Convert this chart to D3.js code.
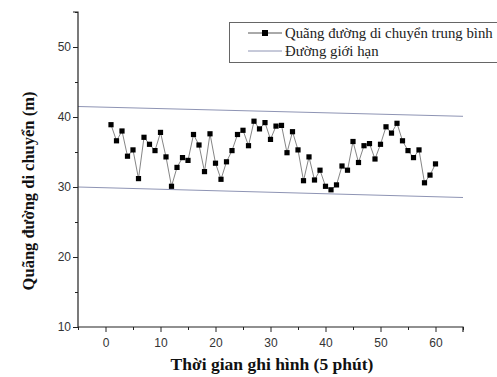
<!DOCTYPE html>
<html><head><meta charset="utf-8">
<script src="https://cdn.jsdelivr.net/npm/d3@7"></script>
<style>html,body{margin:0;padding:0;background:#fff;overflow:hidden}</style>
</head><body><svg id="c" width="497" height="377"></svg>
<script>
const xValues = d3.range(1, 61);
const distance = [38.9,36.6,38.0,34.4,35.3,31.2,37.1,36.1,35.2,37.8,
  34.3,30.1,32.8,34.2,33.8,37.5,36.0,32.2,37.6,33.4,
  31.1,33.6,35.2,37.5,38.1,35.9,39.4,38.3,39.2,36.8,
  38.7,38.8,34.9,37.9,35.3,30.9,34.3,31.0,32.4,30.1,
  29.6,30.3,33.0,32.4,36.5,33.5,35.9,36.2,34.0,36.1,
  38.6,37.7,39.1,36.6,35.2,34.2,35.3,30.6,31.7,33.3];
const upperLimit = [[-5, 41.5], [65, 40.1]];
const lowerLimit = [[-5, 30.0], [65, 28.5]];
const xTicks = [0,10,20,30,40,50,60];
const yTicks = [10,20,30,40,50];
const legendLabels = ["Quãng đường di chuyển trung bình", "Đường giới hạn"];

const svg = d3.select("#c");
const x = d3.scaleLinear().domain([-5, 65]).range([78, 463]);
const y = d3.scaleLinear().domain([10, 55]).range([327, 12]);

// limit lines
const lim = d3.line().x(d => x(d[0])).y(d => y(d[1]));
[upperLimit, lowerLimit].forEach(l => {
  svg.append("path").attr("d", lim(l)).attr("fill", "none")
    .attr("stroke", "#8e94b4").attr("stroke-width", 1);
});

// series
const line = d3.line().x((d, i) => x(xValues[i])).y(d => y(d));
svg.append("path").attr("d", line(distance)).attr("fill", "none")
  .attr("stroke", "#777").attr("stroke-width", 0.9);
svg.selectAll("rect.pt").data(distance).join("rect").attr("class", "pt")
  .attr("x", (d, i) => x(xValues[i]) - 2.6).attr("y", d => y(d) - 2.6)
  .attr("width", 5.2).attr("height", 5.2).attr("fill", "#000");

// axes
const xAxis = d3.axisBottom(x).tickValues(d3.range(-5, 66, 5)).tickSize(4)
  .tickFormat(d => xTicks.includes(d) ? d : "");
const gx = svg.append("g").attr("transform", "translate(0,327)").call(xAxis);
gx.selectAll(".tick line").attr("y2", d => xTicks.includes(d) ? 5 : 3);
const yAxis = d3.axisLeft(y).tickValues(d3.range(10, 56, 5)).tickSize(4)
  .tickFormat(d => yTicks.includes(d) ? d : "");
const gy = svg.append("g").attr("transform", "translate(78,0)").call(yAxis);
gy.selectAll(".tick line").attr("x2", d => yTicks.includes(d) ? -5 : -3);
[gx, gy].forEach(g => {
  g.select(".domain").attr("stroke", "#222").attr("stroke-width", 1.2);
  g.selectAll(".tick line").attr("stroke", "#222");
  g.selectAll("text").attr("font-family", "Liberation Sans, Arial, sans-serif")
    .attr("font-size", 12).attr("fill", "#333");
});
gx.select(".domain").attr("d", "M78,0H463V5");
gy.select(".domain").attr("d", "M-5,12H0V327");
gx.selectAll("text").attr("dy", "1.05em");

// axis titles
svg.append("text").attr("x", 272).attr("y", 370).attr("text-anchor", "middle")
  .attr("font-family", "Liberation Serif, Times New Roman, serif").attr("font-weight", "bold")
  .attr("font-size", 17.5).attr("fill", "#111").text("Thời gian ghi hình (5 phút)");
svg.append("text").attr("transform", "translate(34,191) rotate(-90)").attr("text-anchor", "middle")
  .attr("font-family", "Liberation Serif, Times New Roman, serif").attr("font-weight", "bold")
  .attr("font-size", 16.5).attr("fill", "#111").text("Quãng đường di chuyển (m)");

// legend
const lg = svg.append("g");
lg.append("rect").attr("x", 229.5).attr("y", 22.5).attr("width", 280).attr("height", 40)
  .attr("fill", "#fff").attr("stroke", "#666").attr("stroke-width", 1);
legendLabels.forEach((t, i) => {
  const yy = 33 + i * 18;
  lg.append("line").attr("x1", 248).attr("x2", 282).attr("y1", yy).attr("y2", yy)
    .attr("stroke", i === 0 ? "#555" : "#8e94b4").attr("stroke-width", 1);
  if (i === 0) lg.append("rect").attr("x", 262).attr("y", yy - 3).attr("width", 6).attr("height", 6).attr("fill", "#000");
  lg.append("text").attr("x", 285).attr("y", yy + 5)
    .attr("font-family", "Liberation Serif, Times New Roman, serif").attr("font-size", 14.8)
    .attr("fill", "#222").text(t);
});
</script></body></html>
